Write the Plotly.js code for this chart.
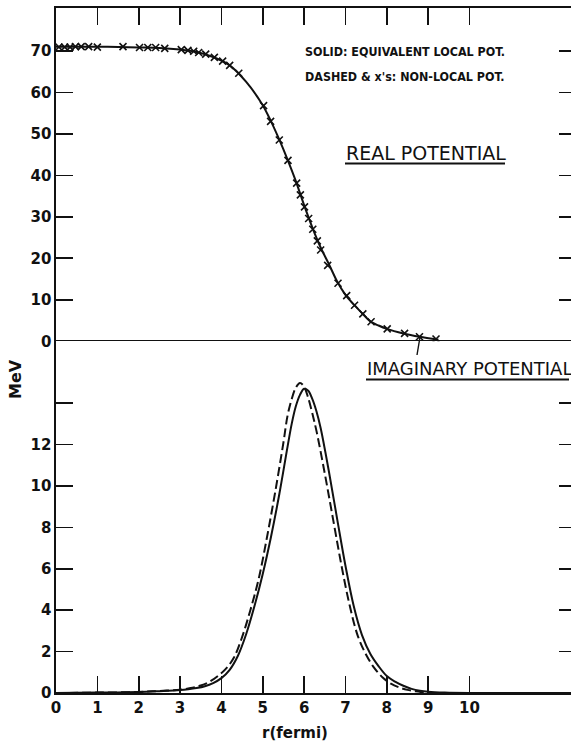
<!DOCTYPE html>
<html>
<head>
<meta charset="utf-8">
<script src="https://cdn.plot.ly/plotly-3.0.1.min.js"></script>
<style>
  html, body { margin: 0; padding: 0; background: #fff; overflow: hidden; }
  #chart { width: 576px; height: 741px; }
</style>
</head>
<body>
<div id="chart"></div>
<script>
// ---------------- DATA ----------------
// Real potential, non-local (x's)
const rCross = [0.07,0.21,0.34,0.47,0.61,0.79,1.00,1.62,2.02,2.22,2.41,2.63,3.03,3.19,3.33,3.45,3.62,3.83,4.03,4.20,4.42,5.02,5.19,5.40,5.61,5.82,5.91,6.01,6.11,6.21,6.32,6.40,6.57,6.82,7.03,7.22,7.42,7.62,8.01,8.43,8.79,9.19];
const vCross = [70.9,70.9,70.9,71.0,71.0,71.0,70.9,71.0,70.8,70.8,70.8,70.6,70.3,70.1,69.9,69.6,69.2,68.4,67.5,66.5,64.6,56.8,53.0,48.5,43.6,38.1,35.3,32.4,29.6,27.0,24.2,22.0,18.3,14.0,11.0,8.7,6.6,4.7,3.0,1.9,1.1,0.55];

// Real potential, equivalent local (solid)
const rRealSolid = [0,0.5,1.0,1.5,2.0,2.5,3.0,3.4,3.8,4.2,4.6,5.0,5.2,5.4,5.6,5.8,6.0,6.2,6.4,6.6,6.8,7.0,7.2,7.4,7.6,7.8,8.0,8.4,8.8,9.25];
const vRealSolid = [71.0,71.0,71.0,70.9,70.8,70.7,70.3,69.7,68.5,66.5,62.5,56.9,53.0,48.6,43.8,38.6,32.8,27.4,22.6,18.6,14.4,11.2,8.9,6.8,4.8,3.8,3.0,1.9,1.1,0.4];

// Imaginary potential, equivalent local (solid)
const rImagSolid = [0,1,2,2.5,3.0,3.2,3.4,3.6,3.8,4.0,4.2,4.4,4.6,4.8,5.0,5.2,5.4,5.6,5.7,5.8,5.9,6.0,6.1,6.2,6.3,6.4,6.6,6.8,7.0,7.2,7.4,7.6,7.8,8.0,8.2,8.4,8.6,8.8,9.0,9.4,10,12.6];
const wImagSolid = [0,0.02,0.05,0.09,0.14,0.18,0.24,0.33,0.48,0.72,1.12,1.8,2.85,4.2,5.75,7.55,9.6,11.9,13.0,13.85,14.4,14.7,14.6,14.2,13.6,12.8,10.7,8.4,6.15,4.2,2.8,1.9,1.3,0.82,0.55,0.35,0.2,0.11,0.06,0.02,0,0];

// Imaginary potential, non-local (dashed)
const rImagDashed = [0,1,2,2.5,3.0,3.3,3.5,3.7,3.9,4.1,4.3,4.5,4.7,4.9,5.1,5.3,5.5,5.6,5.7,5.8,5.9,6.0,6.1,6.2,6.3,6.5,6.7,6.9,7.1,7.3,7.5,7.7,7.9,8.1,8.3,8.5,8.7,8.9,9.2];
const wImagDashed = [0,0.02,0.05,0.1,0.16,0.25,0.36,0.53,0.8,1.15,1.7,2.7,4.0,5.5,7.5,9.7,12.1,13.4,14.2,14.75,14.98,14.8,14.25,13.5,12.65,10.6,8.4,6.2,4.25,2.75,1.85,1.2,0.75,0.45,0.27,0.15,0.08,0.03,0];

// Tick labels
const xTickVals = [0,1,2,3,4,5,6,7,8,9,10];
const xTickText = ["0","1","2","3","4","5","6","7","8","9","10"];
const yRealTickVals = [0,10,20,30,40,50,60,70];
const yRealTickText = ["0","10","20","30","40","50","60","70"];
const yImagTickVals = [0,2,4,6,8,10,12,14];
const yImagTickText = ["0","2","4","6","8","10","12",""];

// ---------------- LAYOUT ----------------
const W = 576, H = 741, L = 56, R = 0, T = 8, B = 48;
const PW = W - L - R, PH = H - T - B;
const px = v => (v - L) / PW;          // pixel x -> paper
const py = v => (H - B - v) / PH;      // pixel y -> paper
const split = py(341.3);
const ink = "#111";
const tickFont = {family: "DejaVu Sans, Arial, sans-serif", size: 15, weight: "bold", color: ink};

const traces = [
  {x: rRealSolid, y: vRealSolid, xaxis: "x2", yaxis: "y2", mode: "lines",
   line: {color: ink, width: 2, shape: "spline", smoothing: 0.8}, hoverinfo: "skip"},
  {x: rCross, y: vCross, xaxis: "x2", yaxis: "y2", mode: "markers",
   marker: {symbol: "x-thin-open", size: 7, color: ink, line: {color: ink, width: 1.6}}, hoverinfo: "skip"},
  {x: rImagSolid, y: wImagSolid, xaxis: "x", yaxis: "y", mode: "lines",
   line: {color: ink, width: 2, shape: "spline", smoothing: 1}, hoverinfo: "skip"},
  {x: rImagDashed, y: wImagDashed, xaxis: "x", yaxis: "y", mode: "lines",
   line: {color: ink, width: 2, dash: "9px,4px", shape: "spline", smoothing: 1}, hoverinfo: "skip"}
];

const axisCommon = {
  showgrid: false, zeroline: false, showline: true, linecolor: ink, linewidth: 1.6,
  ticks: "inside", ticklen: 17, tickwidth: 1.6, tickcolor: ink, tickfont: tickFont,
  tickmode: "array", fixedrange: true
};
const xMax = PW / 41.35;

const layout = {
  width: W, height: H, showlegend: false,
  paper_bgcolor: "#fff", plot_bgcolor: "#fff",
  margin: {l: L, r: R, t: T, b: B, pad: 0},
  xaxis: Object.assign({}, axisCommon, {
    domain: [0, 1], range: [0, xMax], anchor: "y",
    tickvals: xTickVals, ticktext: xTickText, mirror: true
  }),
  xaxis2: Object.assign({}, axisCommon, {
    domain: [0, 1], range: [0, xMax], anchor: "y2", side: "top", matches: "x",
    tickvals: xTickVals.slice(1), showticklabels: false
  }),
  yaxis: Object.assign({}, axisCommon, {
    domain: [0, split], range: [0, (H - B - 341.3) / 20.7], anchor: "x",
    tickvals: yImagTickVals, ticktext: yImagTickText, mirror: "ticks"
  }),
  yaxis2: Object.assign({}, axisCommon, {
    domain: [split, 1], range: [0, (341.3 - T) / 4.15], anchor: "x2",
    tickvals: yRealTickVals, ticktext: yRealTickText, mirror: "ticks"
  }),
  annotations: [
    {text: "<b>MeV</b>", xref: "paper", yref: "paper", x: px(16), y: py(379),
     textangle: -90, showarrow: false, xanchor: "center", yanchor: "middle",
     font: {family: "DejaVu Sans, Arial, sans-serif", size: 16, color: ink}},
    {text: "<b>r(fermi)</b>", xref: "paper", yref: "paper", x: px(295), y: py(733),
     showarrow: false, xanchor: "center", yanchor: "middle",
     font: {family: "DejaVu Sans, Arial, sans-serif", size: 15, color: ink}},
    {text: "<b>SOLID: EQUIVALENT LOCAL POT.</b>", xref: "paper", yref: "paper", x: px(303), y: py(52),
     showarrow: false, xanchor: "left", yanchor: "middle",
     font: {family: "DejaVu Sans Condensed, DejaVu Sans, sans-serif", size: 12.4, color: ink}},
    {text: "<b>DASHED &amp; x's: NON-LOCAL POT.</b>", xref: "paper", yref: "paper", x: px(303), y: py(76),
     showarrow: false, xanchor: "left", yanchor: "middle",
     font: {family: "DejaVu Sans Condensed, DejaVu Sans, sans-serif", size: 12.4, color: ink}},
    {text: "REAL POTENTIAL", xref: "paper", yref: "paper", x: px(344), y: py(153),
     showarrow: false, xanchor: "left", yanchor: "middle",
     font: {family: "DejaVu Sans, Arial, sans-serif", size: 19, color: ink}},
    {text: "IMAGINARY POTENTIAL", xref: "paper", yref: "paper", x: px(365), y: py(368),
     showarrow: false, xanchor: "left", yanchor: "middle",
     font: {family: "DejaVu Sans, Arial, sans-serif", size: 18, color: ink}}
  ],
  shapes: [
    {type: "line", xref: "paper", yref: "paper", x0: px(345), x1: px(505), y0: py(163.5), y1: py(163.5),
     line: {color: ink, width: 1.8}},
    {type: "line", xref: "paper", yref: "paper", x0: px(366), x1: px(569), y0: py(379.5), y1: py(379.5),
     line: {color: ink, width: 1.8}},
    {type: "line", xref: "paper", yref: "paper", x0: px(420), x1: px(417), y0: py(337), y1: py(355),
     line: {color: ink, width: 1.4}}
  ]
};

Plotly.newPlot("chart", traces, layout, {staticPlot: true, displayModeBar: false});
</script>
</body>
</html>
